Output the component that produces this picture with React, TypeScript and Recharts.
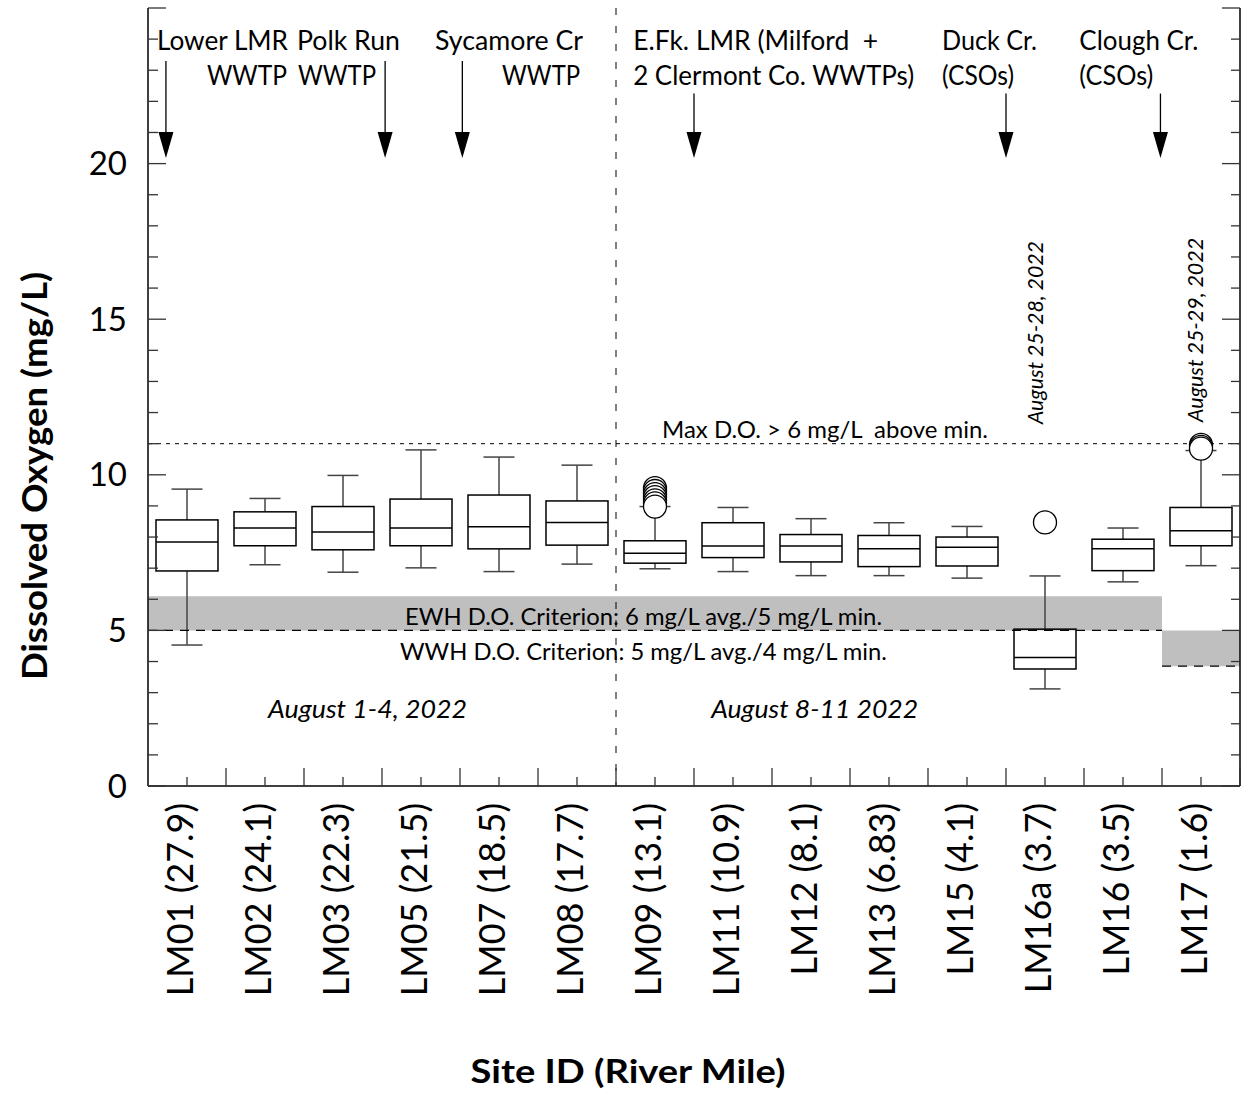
import React from "react";
import {
  Bar,
  ComposedChart,
  ReferenceArea,
  ReferenceDot,
  ReferenceLine,
  Scatter,
  XAxis,
  YAxis,
} from "recharts";

// site labels (river mile) and box statistics
const sites = [
  "LM01 (27.9)",
  "LM02 (24.1)",
  "LM03 (22.3)",
  "LM05 (21.5)",
  "LM07 (18.5)",
  "LM08 (17.7)",
  "LM09 (13.1)",
  "LM11 (10.9)",
  "LM12 (8.1)",
  "LM13 (6.83)",
  "LM15 (4.1)",
  "LM16a (3.7)",
  "LM16 (3.5)",
  "LM17 (1.6)",
];
const whiskerLow = [4.53, 7.11, 6.87, 7.01, 6.89, 7.13, 6.98, 6.89, 6.76, 6.76, 6.68, 3.12, 6.56, 7.08];
const q1 = [6.91, 7.72, 7.59, 7.72, 7.62, 7.74, 7.16, 7.34, 7.2, 7.05, 7.07, 3.76, 6.92, 7.72];
const median = [7.84, 8.29, 8.16, 8.29, 8.33, 8.47, 7.48, 7.71, 7.71, 7.62, 7.67, 4.13, 7.62, 8.2];
const q3 = [8.55, 8.81, 8.98, 9.22, 9.35, 9.16, 7.88, 8.46, 8.08, 8.05, 8.0, 5.04, 7.93, 8.95];
const whiskerHigh = [9.54, 9.24, 9.98, 10.8, 10.57, 10.31, 8.98, 8.95, 8.59, 8.46, 8.34, 6.75, 8.29, 10.78];
// listed highest first, so the lowest circle is drawn last (on top)
const outliers: number[][] = [
  [], [], [], [], [], [],
  [9.57, 9.48, 9.38, 9.28, 9.18, 9.08, 8.98],
  [], [], [], [],
  [8.47],
  [],
  [10.96, 10.9, 10.84],
];

const yTicks = Array.from({ length: 26 }, (_, i) => i);
const xTicks = Array.from({ length: 29 }, (_, i) => i / 2);
const maxOutliers = Math.max(...outliers.map((o) => o.length));

const data = sites.map((site, i) => {
  const row: Record<string, unknown> = {
    site,
    range: [whiskerLow[i], whiskerHigh[i]],
    q1: q1[i],
    median: median[i],
    q3: q3[i],
  };
  outliers[i].forEach((v, k) => (row[`o${k}`] = v));
  return row;
});

// annotations in data units (x: 0..14 across sites, y: mg/L)
const sources = [
  { x: 0.115, y: 23.65, text: "Lower LMR", len: 131 },
  { x: 0.756, y: 22.53, text: "WWTP", len: 80 },
  { x: 1.91, y: 23.65, text: "Polk Run", len: 103 },
  { x: 1.923, y: 22.53, text: "WWTP", len: 78 },
  { x: 3.68, y: 23.65, text: "Sycamore Cr", len: 148 },
  { x: 4.54, y: 22.53, text: "WWTP", len: 78 },
  { x: 6.22, y: 23.65, text: "E.Fk. LMR (Milford  +", len: 245 },
  { x: 6.22, y: 22.53, text: "2 Clermont Co. WWTPs)", len: 281 },
  { x: 10.18, y: 23.65, text: "Duck Cr.", len: 95 },
  { x: 10.18, y: 22.53, text: "(CSOs)", len: 72 },
  { x: 11.94, y: 23.65, text: "Clough Cr.", len: 119 },
  { x: 11.94, y: 22.53, text: "(CSOs)", len: 74 },
];
const arrows = [
  { x: 0.23, top: 23.3 },
  { x: 3.04, top: 23.3 },
  { x: 4.03, top: 23.3 },
  { x: 7.0, top: 22.25 },
  { x: 11.0, top: 22.25 },
  { x: 12.98, top: 22.25 },
];
const ARROW_TIP = 20.18;

const notes = [
  { x: 6.59, y: 11.18, text: "Max D.O. > 6 mg/L  above min.", len: 326, size: 23, italic: false },
  { x: 3.295, y: 5.17, text: "EWH D.O. Criterion: 6 mg/L avg./5 mg/L min.", len: 477, size: 23, italic: false },
  { x: 3.23, y: 4.05, text: "WWH D.O. Criterion: 5 mg/L avg./4 mg/L min.", len: 487, size: 23, italic: false },
  { x: 1.54, y: 2.19, text: "August 1-4, 2022", len: 199, size: 26, italic: true },
  { x: 7.22, y: 2.19, text: "August 8-11 2022", len: 207, size: 26, italic: true },
];
const sideNotes = [
  { x: 11.47, y: 11.63, text: "August 25-28, 2022", len: 183 },
  { x: 13.53, y: 11.7, text: "August 25-29, 2022", len: 184 },
];

const W = 1241;
const H = 1095;
const LEFT_W = 148;
const RIGHT_W = 1;
const BOTTOM_H = 309;
const TOP = 8;
const BAND = (W - LEFT_W - RIGHT_W) / sites.length;
const FONT = "Lato, 'Open Sans', sans-serif";
const INK = "#000";

function BoxShape(props: any) {
  const { x, y, width, height, payload } = props;
  const [lo, hi] = payload.range as number[];
  const top = Math.min(y, y + height);
  const h = Math.abs(height);
  const py = (v: number) => top + ((hi - v) / (hi - lo)) * h;
  const cx = x + width / 2;
  const cap = width / 4;
  const wStroke = "#444";
  return (
    <g>
      <line x1={cx} x2={cx} y1={py(hi)} y2={py(payload.q3)} stroke={wStroke} strokeWidth={1.5} />
      <line x1={cx} x2={cx} y1={py(payload.q1)} y2={py(lo)} stroke={wStroke} strokeWidth={1.5} />
      <line x1={cx - cap} x2={cx + cap} y1={py(hi)} y2={py(hi)} stroke={wStroke} strokeWidth={1.5} />
      <line x1={cx - cap} x2={cx + cap} y1={py(lo)} y2={py(lo)} stroke={wStroke} strokeWidth={1.5} />
      <rect
        x={x}
        y={py(payload.q3)}
        width={width}
        height={py(payload.q1) - py(payload.q3)}
        fill="none"
        stroke={INK}
        strokeWidth={1.5}
      />
      <line x1={x} x2={x + width} y1={py(payload.median)} y2={py(payload.median)} stroke={INK} strokeWidth={1.5} />
    </g>
  );
}

function OutlierShape(props: any) {
  const { cx, cy } = props;
  if (!Number.isFinite(cx) || !Number.isFinite(cy)) return <g />;
  return <circle cx={cx} cy={cy} r={11.5} fill="#fff" stroke={INK} strokeWidth={1.3} />;
}

function LeftTick(props: any) {
  const { x, y, payload } = props;
  const v = payload.value as number;
  const major = v % 5 === 0;
  return (
    <g>
      <line x1={x} x2={x + (major ? 18 : 10)} y1={y} y2={y} stroke="#333" strokeWidth={1.3} />
      {major && v <= 20 && (
        <text x={x - 21} y={y} dy="0.35em" textAnchor="end" fontFamily={FONT} fontSize={33} fill={INK}>
          {v}
        </text>
      )}
    </g>
  );
}

function RightTick(props: any) {
  const { x, y, payload } = props;
  const major = (payload.value as number) % 5 === 0;
  return <line x1={x - (major ? 18 : 9)} x2={x} y1={y} y2={y} stroke="#333" strokeWidth={1.3} />;
}

function TopTick(props: any) {
  const { x, y, payload } = props;
  const whole = Number.isInteger(payload.value);
  return <line x1={x} x2={x} y1={y} y2={y + (whole ? 20 : 6)} stroke="#333" strokeWidth={1.3} />;
}

function SiteTick(props: any) {
  const { x, y, payload } = props;
  return (
    <g>
      <line x1={x} x2={x} y1={y} y2={y - 9} stroke="#333" strokeWidth={1.3} />
      <line x1={x + BAND / 2} x2={x + BAND / 2} y1={y} y2={y - 18} stroke="#333" strokeWidth={1.3} />
      <text
        transform={`translate(${x + 6},${y + 17}) rotate(-90)`}
        textAnchor="end"
        fontFamily={FONT}
        fontSize={36}
        fill={INK}
      >
        {payload.value}
      </text>
    </g>
  );
}

function Arrow(props: any) {
  const { x1, y1, x2, y2 } = props;
  return (
    <g>
      <line x1={x1} x2={x2} y1={y1} y2={y2 - 20} stroke={INK} strokeWidth={1.3} />
      <polygon points={`${x2 - 7.5},${y2 - 26} ${x2 + 7.5},${y2 - 26} ${x2},${y2}`} fill={INK} />
    </g>
  );
}

export default function App() {
  return (
    <div style={{ width: W, height: H, overflow: "hidden", background: "#fff" }}>
      <style>{"body{margin:0;overflow:hidden}"}</style>
      <ComposedChart
        width={W}
        height={H}
        data={data}
        margin={{ top: TOP, right: 0, bottom: 0, left: 0 }}
      >
        <XAxis
          xAxisId="cat"
          dataKey="site"
          type="category"
          allowDuplicatedCategory={false}
          height={BOTTOM_H}
          interval={0}
          tickSize={0}
          tickMargin={0}
          tickLine={false}
          axisLine={{ stroke: INK, strokeWidth: 1.5 }}
          tick={SiteTick}
          label={{
            content: () => (
              <text
                x={628}
                y={1083}
                textAnchor="middle"
                fontFamily={FONT}
                fontWeight="bold"
                fontSize={33}
                textLength={315}
                lengthAdjust="spacingAndGlyphs"
                fill={INK}
              >
                Site ID (River Mile)
              </text>
            ),
          }}
        />
        <XAxis
          xAxisId="num"
          dataKey="_grid"
          type="number"
          orientation="top"
          domain={[0, 14]}
          ticks={xTicks}
          interval={0}
          allowDataOverflow
          height={0}
          tickSize={0}
          tickMargin={0}
          tickLine={false}
          axisLine={{ stroke: INK, strokeWidth: 1.5 }}
          tick={TopTick}
        />
        <YAxis
          yAxisId="left"
          type="number"
          domain={[0, 25]}
          ticks={yTicks}
          interval={0}
          allowDataOverflow
          width={LEFT_W}
          tickSize={0}
          tickMargin={0}
          tickLine={false}
          axisLine={{ stroke: INK, strokeWidth: 1.5 }}
          tick={LeftTick}
          label={{
            content: () => (
              <text
                transform="translate(47,476) rotate(-90)"
                textAnchor="middle"
                fontFamily={FONT}
                fontWeight="bold"
                fontSize={34}
                textLength={408}
                lengthAdjust="spacingAndGlyphs"
                fill={INK}
              >
                Dissolved Oxygen (mg/L)
              </text>
            ),
          }}
        />
        <YAxis
          yAxisId="right"
          orientation="right"
          type="number"
          domain={[0, 25]}
          ticks={yTicks}
          interval={0}
          allowDataOverflow
          width={RIGHT_W}
          tickSize={0}
          tickMargin={0}
          tickLine={false}
          axisLine={{ stroke: INK, strokeWidth: 1.5 }}
          tick={RightTick}
        />

        <ReferenceArea xAxisId="num" yAxisId="left" x1={0} x2={13} y1={5} y2={6.1} fill="#bfbfbf" fillOpacity={1} stroke="none" />
        <ReferenceArea xAxisId="num" yAxisId="left" x1={13} x2={14} y1={3.85} y2={5} fill="#bfbfbf" fillOpacity={1} stroke="none" />

        <Bar
          xAxisId="cat"
          yAxisId="left"
          dataKey="range"
          barSize={62}
          shape={BoxShape}
          isAnimationActive={false}
        />
        {Array.from({ length: maxOutliers }, (_, k) => (
          <Scatter
            key={k}
            xAxisId="cat"
            yAxisId="left"
            dataKey={`o${k}`}
            shape={OutlierShape}
            isAnimationActive={false}
          />
        ))}

        <ReferenceLine xAxisId="num" yAxisId="left" y={11} stroke={INK} strokeWidth={1} strokeDasharray="4 5" />
        <ReferenceLine
          xAxisId="num"
          yAxisId="left"
          segment={[{ x: 0, y: 5 }, { x: 13, y: 5 }]}
          stroke={INK}
          strokeWidth={1.3}
          strokeDasharray="9 7"
        />
        <ReferenceLine
          xAxisId="num"
          yAxisId="left"
          segment={[{ x: 13, y: 3.85 }, { x: 14, y: 3.85 }]}
          stroke={INK}
          strokeWidth={1.3}
          strokeDasharray="9 7"
        />
        <ReferenceLine xAxisId="num" yAxisId="left" x={6} stroke={INK} strokeWidth={1} strokeDasharray="7 11" />

        {arrows.map((a, i) => (
          <ReferenceLine
            key={`a${i}`}
            xAxisId="num"
            yAxisId="left"
            segment={[{ x: a.x, y: a.top }, { x: a.x, y: ARROW_TIP }]}
            shape={Arrow}
          />
        ))}

        {sources.map((s, i) => (
          <ReferenceDot
            key={`s${i}`}
            xAxisId="num"
            yAxisId="left"
            x={s.x}
            y={s.y}
            r={0}
            shape={(p: any) => (
              <text
                x={p.cx}
                y={p.cy}
                fontFamily={FONT}
                fontSize={26}
                textLength={s.len}
                lengthAdjust="spacingAndGlyphs"
                fill={INK}
                style={{ whiteSpace: "pre" }}
              >
                {s.text}
              </text>
            )}
          />
        ))}
        {notes.map((n, i) => (
          <ReferenceDot
            key={`n${i}`}
            xAxisId="num"
            yAxisId="left"
            x={n.x}
            y={n.y}
            r={0}
            shape={(p: any) => (
              <text
                x={p.cx}
                y={p.cy}
                fontFamily={FONT}
                fontSize={n.size}
                fontStyle={n.italic ? "italic" : "normal"}
                textLength={n.len}
                lengthAdjust="spacingAndGlyphs"
                fill={INK}
                style={{ whiteSpace: "pre" }}
              >
                {n.text}
              </text>
            )}
          />
        ))}
        {sideNotes.map((n, i) => (
          <ReferenceDot
            key={`d${i}`}
            xAxisId="num"
            yAxisId="left"
            x={n.x}
            y={n.y}
            r={0}
            shape={(p: any) => (
              <text
                transform={`translate(${p.cx},${p.cy}) rotate(-90)`}
                fontFamily={FONT}
                fontSize={22}
                fontStyle="italic"
                textLength={n.len}
                lengthAdjust="spacingAndGlyphs"
                fill={INK}
              >
                {n.text}
              </text>
            )}
          />
        ))}
      </ComposedChart>
    </div>
  );
}
